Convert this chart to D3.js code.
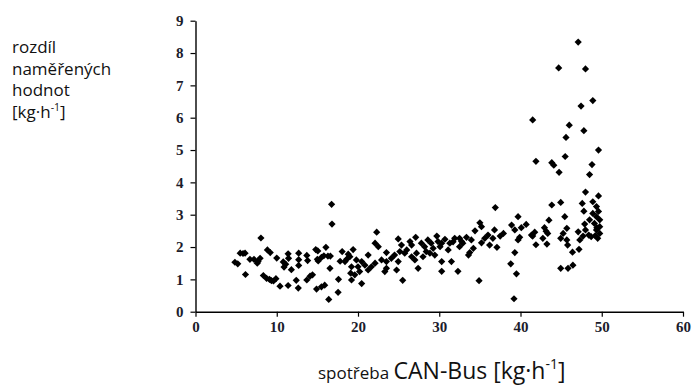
<!DOCTYPE html>
<html>
<head>
<meta charset="utf-8">
<script src="https://cdn.jsdelivr.net/npm/d3@7"></script>
<style>
  body { margin: 0; background: #fff; }
  svg { display: block; }
</style>
</head>
<body>
<div id="chart-container"></div>
<script>
const width = 694;
const height = 387;

// x = spotřeba CAN-Bus, y = rozdíl naměřených hodnot
const canBus = [
  4.85, 5.2, 5.5, 5.85, 6.1, 6.15, 6.7, 7.2, 7.6, 7.7, 7.95, 8.05, 8.35, 8.75, 8.85, 9.2, 9.1, 9.35, 9.6, 9.9,
  10.0, 10.4, 10.8, 10.9, 11.1, 11.4, 11.4, 11.45, 11.8, 12.4, 12.7, 12.7, 12.7, 12.65, 13.7, 13.8, 13.7, 14.1, 14.4, 14.8,
  15.05, 15.0, 15.1, 15.5, 14.9, 15.5, 15.9, 16.05, 15.8, 16.3, 16.6, 16.55, 16.4, 16.75, 16.8, 17.55, 17.6, 17.8, 18.05, 18.4,
  18.6, 18.8, 19.4, 19.8, 19.2, 19.1, 19.0, 19.6, 19.2, 20.45, 20.0, 20.2, 20.45, 20.85, 21.25, 21.25, 21.65, 22.1, 22.3, 22.1,
  22.5, 22.9, 23.3, 23.5, 23.5, 23.5, 24.1, 24.5, 24.75, 24.95, 24.95, 25.15, 25.35, 25.5, 25.75, 26.0, 26.4, 26.6, 26.6, 27.0,
  27.1, 27.2, 27.4, 27.8, 28.0, 28.2, 28.4, 28.6, 28.85, 29.0, 29.25, 29.45, 29.7, 29.85, 30.1, 30.3, 30.3, 30.3, 30.7, 31.1,
  31.3, 31.5, 31.7, 31.9, 32.3, 32.5, 32.5, 32.75, 32.9, 33.35, 33.95, 33.75, 33.6, 34.2, 34.4, 34.9, 35.0, 35.2, 35.2, 35.6,
  36.0, 36.2, 36.6, 36.8, 36.9, 37.1, 37.5, 37.9, 38.8, 38.9, 39.3, 39.3, 39.2, 39.5, 39.7, 39.7, 39.9, 40.1, 40.7, 41.35,
  41.5, 41.5, 41.75, 41.9, 41.9, 42.75, 42.95, 43.15, 43.25, 43.35, 43.5, 43.85, 44.1, 43.85, 44.7, 44.75, 44.95, 44.95, 44.95, 45.25,
  45.45, 45.5, 45.6, 45.7, 45.7, 45.8, 45.85, 46.0, 46.4, 46.45, 47.1, 47.1, 47.2, 47.3, 47.45, 47.6, 47.7, 47.8, 47.8, 47.9,
  48.0, 48.0, 48.0, 48.4, 48.5, 48.5, 48.7, 48.8, 48.9, 48.9, 48.9, 49.1, 49.35, 49.35, 49.35, 49.5, 49.6, 49.6, 49.75, 49.75,
  49.75, 49.2, 49.6, 49.4
];
const diff = [
  1.53, 1.48, 1.81, 1.80, 1.81, 1.15, 1.62, 1.62, 1.50, 1.55, 1.65, 2.28, 1.12, 1.03, 1.91, 1.83, 1.00, 0.96, 0.95, 1.02,
  1.66, 0.79, 1.54, 1.38, 1.47, 1.79, 0.81, 1.65, 1.30, 0.97, 1.81, 1.61, 1.43, 0.73, 1.74, 1.58, 0.98, 1.10, 1.14, 1.92,
  1.88, 1.62, 1.57, 1.68, 0.70, 0.77, 0.82, 1.99, 1.73, 1.72, 1.72, 1.34, 0.38, 3.32, 2.71, 0.60, 1.00, 1.56, 1.86, 1.55,
  1.62, 1.78, 1.92, 1.60, 1.39, 1.19, 1.70, 1.14, 0.98, 0.87, 1.39, 1.24, 1.55, 1.44, 1.75, 1.29, 1.39, 1.50, 2.46, 2.12,
  2.01, 1.60, 1.24, 1.83, 1.55, 1.34, 1.65, 1.75, 1.29, 2.25, 1.55, 1.86, 2.06, 0.97, 1.81, 1.91, 2.17, 2.06, 1.70, 1.60,
  2.30, 1.81, 1.34, 2.12, 1.70, 2.01, 1.86, 2.22, 1.81, 2.12, 1.96, 1.75, 2.34, 2.17, 2.01, 2.12, 1.55, 1.25, 2.24, 1.91,
  2.12, 1.55, 2.16, 2.27, 1.25, 2.27, 2.01, 2.17, 2.12, 2.30, 2.22, 1.83, 1.75, 1.96, 2.50, 0.96, 2.75, 2.63, 2.13, 2.27,
  2.37, 2.06, 2.27, 2.53, 3.22, 1.99, 2.34, 2.42, 1.48, 2.68, 2.53, 1.83, 0.40, 1.17, 2.94, 2.22, 2.30, 2.60, 2.70, 2.37,
  2.34, 5.93, 2.46, 4.65, 2.07, 2.27, 2.60, 2.49, 2.09, 2.42, 2.83, 4.61, 4.53, 3.30, 7.54, 4.31, 3.38, 2.27, 1.34, 2.42,
  2.94, 4.80, 5.39, 2.58, 2.22, 2.06, 1.34, 5.77, 1.84, 1.44, 8.34, 2.47, 1.93, 2.22, 6.36, 3.35, 2.34, 5.60, 3.11, 2.71,
  7.51, 3.70, 2.53, 2.37, 4.24, 2.84, 2.32, 4.55, 6.53, 3.40, 3.04, 2.73, 3.25, 2.94, 2.53, 2.27, 5.00, 3.58, 2.84, 2.63,
  2.42, 2.35, 3.10, 2.60
];
const xTicks = [0, 10, 20, 30, 40, 50, 60];
const yTicks = [0, 1, 2, 3, 4, 5, 6, 7, 8, 9];
const yLabelLines = ["rozdíl", "naměřených", "hodnot"];

const points = canBus.map((d, i) => ({x: d, y: diff[i]}));

const svg = d3.select("#chart-container")
    .append("svg")
    .attr("width", width)
    .attr("height", height)
    .style("background-color", "#ffffff");

const x = d3.scaleLinear()
    .domain([0, 60])
    .range([195.5, 683]);

const y = d3.scaleLinear()
    .domain([0, 9])
    .range([311.7, 20.7]);

// axes
const xAxis = svg.append("g")
    .attr("transform", `translate(0,${y(0)})`)
    .call(d3.axisBottom(x).tickValues(xTicks).tickSize(5).tickPadding(5).tickSizeOuter(0));

const yAxis = svg.append("g")
    .attr("transform", `translate(${x(0)},0)`)
    .call(d3.axisLeft(y).tickValues(yTicks).tickSize(5).tickPadding(7).tickSizeOuter(0));

[xAxis, yAxis].forEach(ax => {
    ax.select(".domain").attr("stroke", "#000").attr("stroke-width", 1.4);
    ax.selectAll(".tick line").attr("stroke", "#000").attr("stroke-width", 1.2);
    ax.selectAll(".tick text")
        .attr("fill", "#1c1c2c")
        .style("font-family", "Liberation Serif")
        .style("font-size", "15px")
        .style("font-weight", "bold");
});

// points (diamonds)
const r = 3.6;
svg.append("g")
    .selectAll("path")
    .data(points)
    .join("path")
    .attr("transform", d => `translate(${x(d.x)},${y(d.y)})`)
    .attr("d", `M0,${-r}L${r},0L0,${r}L${-r},0Z`)
    .attr("fill", "#000");

// y label
const yLabel = svg.append("text")
    .attr("x", 12)
    .attr("y", 53)
    .style("font-family", "Open Sans")
    .style("font-size", "17px")
    .attr("fill", "#111");

yLabelLines.forEach((t, i) => {
    yLabel.append("tspan").attr("x", 12).attr("dy", i === 0 ? 0 : 21.5).text(t);
});
const unitLine = yLabel.append("tspan").attr("x", 12).attr("dy", 21.5);
unitLine.text("[kg·h");
yLabel.append("tspan").attr("dy", -7).style("font-size", "10.5px").text("-1");
yLabel.append("tspan").attr("dy", 7).text("]");

// x label
const xLabel = svg.append("text")
    .attr("x", 318)
    .attr("y", 379)
    .style("font-family", "Open Sans")
    .attr("fill", "#111");
xLabel.append("tspan").style("font-size", "17px").text("spotřeba ");
xLabel.append("tspan").style("font-size", "23px").text("CAN-Bus [kg·h");
xLabel.append("tspan").attr("dy", -10).style("font-size", "14px").text("-1");
xLabel.append("tspan").attr("dy", 10).style("font-size", "23px").text("]");
</script>
</body>
</html>
